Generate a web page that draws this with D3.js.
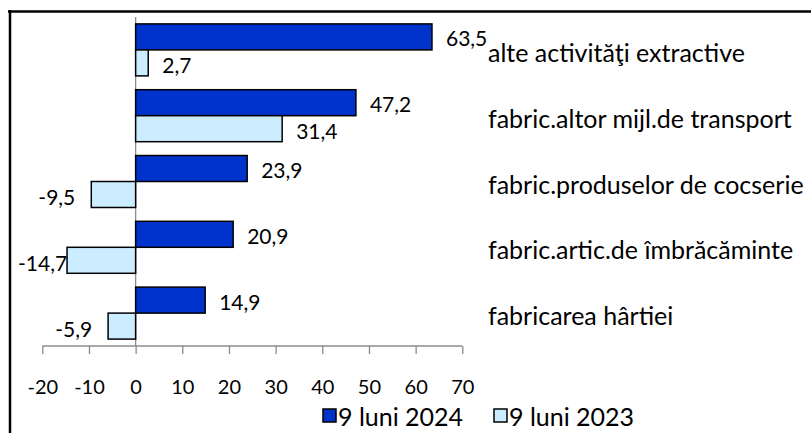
<!DOCTYPE html>
<html>
<head>
<meta charset="utf-8">
<script src="https://cdn.jsdelivr.net/npm/d3@7"></script>
<style>
  html, body { margin: 0; padding: 0; background: #fff; }
  svg { display: block; font-family: Lato, "Open Sans", sans-serif; }
</style>
</head>
<body>
<svg id="chart" width="811" height="433"></svg>
<script>
const categories = [
  "alte activităţi extractive",
  "fabric.altor mijl.de transport",
  "fabric.produselor de cocserie",
  "fabric.artic.de îmbrăcăminte",
  "fabricarea hârtiei"
];
const series2024 = [63.5, 47.2, 23.9, 20.9, 14.9];
const series2023 = [2.7, 31.4, -9.5, -14.7, -5.9];
const seriesNames = ["9 luni 2024", "9 luni 2023"];
const xTicks = [-20, -10, 0, 10, 20, 30, 40, 50, 60, 70];

const colors = ["#0033CC", "#CCECFF"];
const svg = d3.select("#chart");

// frame
svg.append("line").attr("x1", 8).attr("x2", 811).attr("y1", 11.5).attr("y2", 11.5)
  .attr("stroke", "#000").attr("stroke-width", 2.5);
svg.append("line").attr("x1", 10).attr("x2", 10).attr("y1", 10).attr("y2", 433)
  .attr("stroke", "#000").attr("stroke-width", 2.5);

const x = d3.scaleLinear().domain([-20, 70]).range([42.3, 462.3]);
const y = d3.scaleBand().domain(categories).range([17, 346]).paddingInner(0.21).paddingOuter(0.105);
const ySub = d3.scaleBand().domain([0, 1]).range([0, y.bandwidth()]);

const fmt = v => d3.format(".1f")(v).replace(".", ",").replace("−", "-");

// x axis
const xAxis = d3.axisBottom(x).tickValues(xTicks).tickSize(8).tickFormat(d => String(d));
const gx = svg.append("g").attr("transform", "translate(0,346)").call(xAxis);
gx.select(".domain").attr("stroke", "#8c8c8c").attr("stroke-width", 1.3).attr("d", `M${x(-20)},0H${x(70)}`);
gx.selectAll(".tick line").attr("stroke", "#8c8c8c").attr("stroke-width", 1.3);
gx.selectAll(".tick text").attr("y", 41).attr("dy", "0.35em").attr("font-size", 20)
  .attr("font-family", "Lato, sans-serif").attr("fill", "#000");

// y axis line at zero
svg.append("line").attr("x1", x(0)).attr("x2", x(0)).attr("y1", 17).attr("y2", 346)
  .attr("stroke", "#8c8c8c").attr("stroke-width", 1.3);

const data = categories.map((c, i) => ({ c, vals: [series2024[i], series2023[i]] }));

const groups = svg.append("g").selectAll("g").data(data).join("g")
  .attr("transform", d => `translate(0,${y(d.c)})`);

groups.selectAll("rect").data(d => d.vals.map((v, k) => ({ v, k }))).join("rect")
  .attr("x", d => x(Math.min(0, d.v)))
  .attr("width", d => Math.abs(x(d.v) - x(0)))
  .attr("y", d => ySub(d.k))
  .attr("height", ySub.bandwidth())
  .attr("fill", d => colors[d.k])
  .attr("stroke", "#000").attr("stroke-width", 1.5);

// value labels
groups.selectAll("text.val").data(d => d.vals.map((v, k) => ({ v, k }))).join("text")
  .attr("class", "val")
  .attr("font-size", 21)
  .attr("dominant-baseline", "central")
  .attr("y", d => ySub(d.k) + ySub.bandwidth() / 2 + (d.k === 1 ? 2 : 1))
  .text(d => fmt(d.v))
  .each(function (d) {
    const w = this.getComputedTextLength();
    if (d.v >= 0) {
      d3.select(this).attr("x", x(d.v) + 14);
    } else {
      let left = x(d.v) - 16 - w;
      if (left < 18) left = 18;
      d3.select(this).attr("x", left);
    }
  });

// category labels
svg.append("g").selectAll("text").data(categories).join("text")
  .attr("x", 488)
  .attr("y", d => y(d) + y.bandwidth() / 2 + 2)
  .attr("dominant-baseline", "central")
  .attr("font-size", 25)
  .text(d => d);

// legend
const legend = svg.append("g");
const legX = [323, 494];
seriesNames.forEach((n, i) => {
  legend.append("rect").attr("x", legX[i]).attr("y", 409).attr("width", 13).attr("height", 13)
    .attr("fill", colors[i]).attr("stroke", "#000").attr("stroke-width", 1.5);
  legend.append("text").attr("x", legX[i] + 15).attr("y", 416).attr("dominant-baseline", "central")
    .attr("font-size", 25).text(n);
});
</script>
</body>
</html>
